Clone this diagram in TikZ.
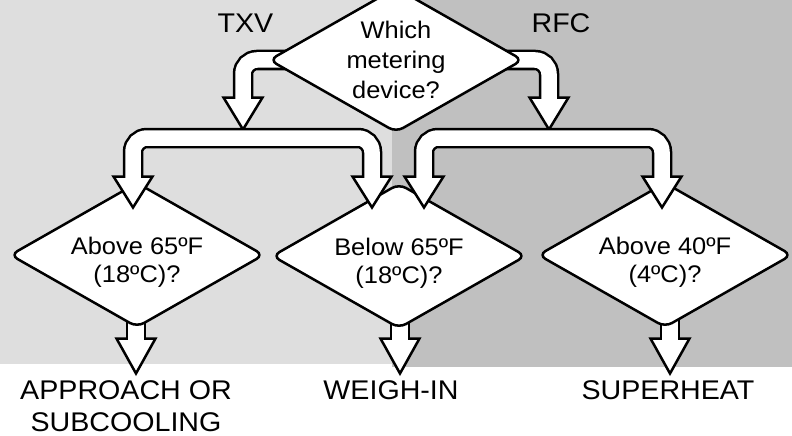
\documentclass[tikz,border=0pt]{standalone}
\usepackage{fontspec}
\setmainfont{Liberation Sans}[FakeStretch=1.06]
\usetikzlibrary{shapes.geometric,calc,positioning}
\pgfdeclarelayer{bg}
\pgfdeclarelayer{low}
\pgfdeclarelayer{high}
\pgfdeclarelayer{front}
\pgfsetlayers{bg,low,main,high,front}
\definecolor{lightbg}{RGB}{222,222,222}
\definecolor{darkbg}{RGB}{192,192,192}
\newcommand{\fathead}[2]{\draw[fathd] (#1) -- ++(-19.5,-#2) -- ++(39,0) -- cycle;}

\begin{document}
\begin{tikzpicture}[x=1pt,y=-1pt,
              decision/.style={diamond, draw, fill=white, line width=2.5pt, rounded corners=8pt,
                aspect=1.75, minimum width=254pt, minimum height=145pt, inner sep=0pt,
                align=center, font=\fontsize{24}{28}\selectfont},
              answer/.style={align=center, font=\fontsize{27}{32}\selectfont},
              shaft/.style={line width=2.5pt, double=white, double distance=15.5pt, rounded corners=14pt},
              fathd/.style={draw, fill=white, line width=2.5pt, line join=miter},
             ]
\useasboundingbox (0,0) rectangle (792,436);
\begin{pgfonlayer}{bg}
\fill[lightbg] (0,0) rectangle (392,364);
\fill[darkbg] (392,0) rectangle (792,367);
\end{pgfonlayer}
\begin{pgfonlayer}{front}
\node[decision, font=\fontsize{24}{30}\selectfont] (q0) at (396,60) {Which\\metering\\device?};
\end{pgfonlayer}
\node[decision, text height=59.5pt] (q1) at (137,255) {Above 65ºF\\(18ºC)?};
\node[decision, text height=59.5pt] (q2) at (399,256) {Below 65ºF\\(18ºC)?};
\node[decision, text height=59.5pt] (q3) at (665,255) {Above 40ºF\\(4ºC)?};
\node[answer, anchor=base] (txv) at (245.5,33) {TXV};
\node[answer, anchor=base] (rfc) at (561,33) {RFC};
\node[answer, anchor=base] (r1) at (126,431) {APPROACH OR\\SUBCOOLING};
\node[answer, anchor=base] (r2) at (391,399) {WEIGH-IN};
\node[answer, anchor=base] (r3) at (668,399) {SUPERHEAT};
\coordinate (t1) at (243,129.5);
\coordinate (t2) at (549,129.5);
\coordinate (a1) at (133,207.5);
\coordinate (a2) at (372,207.5);
\coordinate (a3) at (424,207.5);
\coordinate (a4) at (662,207.5);
\coordinate (b1) at (136,373.5);
\coordinate (b2) at (400,373.5);
\coordinate (b3) at (670,373.5);
\begin{pgfonlayer}{high}
\fathead{t1}{32}
\fathead{t2}{32}
\draw[shaft] (q0.center) -| ($(t1)+(0,-30.75)$);
\draw[shaft] (q0.center) -| ($(t2)+(0,-30.75)$);
\foreach \p in {a1,a2,a3,a4} {\fathead{\p}{31}}
\draw[shaft] ($(a1)+(0,-29.75)$) |- ($(t1)+(0,8.5)$) -| ($(a2)+(0,-29.75)$);
\draw[shaft] ($(a3)+(0,-29.75)$) |- ($(t2)+(0,8.5)$) -| ($(a4)+(0,-29.75)$);
\end{pgfonlayer}
\begin{pgfonlayer}{low}
\foreach \p/\q in {b1/q1,b2/q2,b3/q3} {
  \fathead{\p}{35}
  \draw[shaft, rounded corners=0pt] (\p |- \q.center) -- ($(\p)+(0,-33.75)$);
}
\end{pgfonlayer}
\end{tikzpicture}
\end{document}
